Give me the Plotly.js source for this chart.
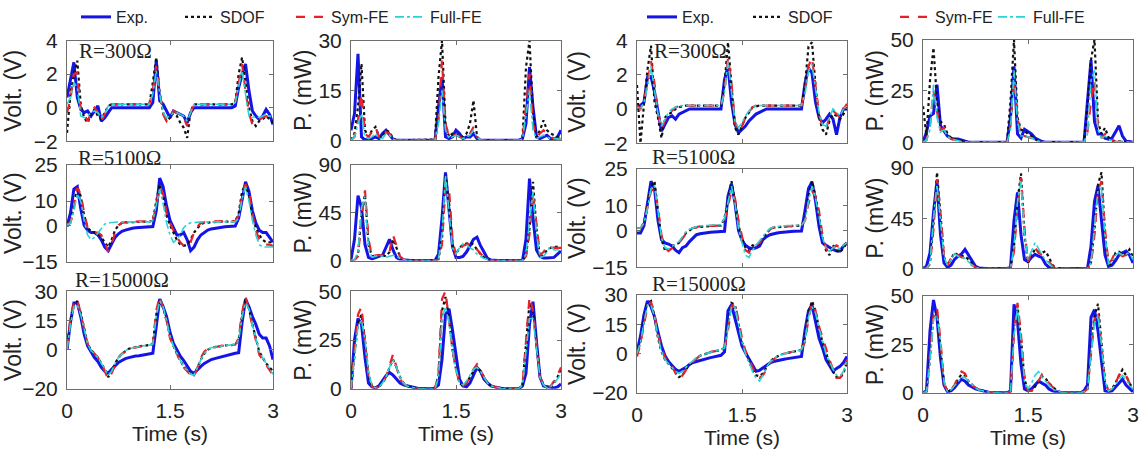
<!DOCTYPE html>
<html><head><meta charset="utf-8">
<script src="https://cdn.plot.ly/plotly-3.0.1.min.js"></script>
<style>html,body{margin:0;padding:0;background:#fff}#chart{width:1139px;height:453px}</style>
</head><body><div id="chart"></div>
<script>
// ---------------- DATA ----------------
const time = [0,0.05,0.1,0.15,0.2,0.25,0.3,0.35,0.4,0.45,
 0.5,0.55,0.6,0.65,0.7,0.75,0.8,0.85,0.9,0.95,
 1.0,1.05,1.1,1.15,1.2,1.25,1.3,1.35,1.4,1.45,
 1.5,1.55,1.6,1.65,1.7,1.75,1.8,1.85,1.9,1.95,
 2.0,2.05,2.1,2.15,2.2,2.25,2.3,2.35,2.4,2.45,
 2.5,2.55,2.6,2.65,2.7,2.75,2.8,2.85,2.9,2.95,3.0];
const seriesNames = ['Exp.','SDOF','Sym-FE','Full-FE'];
const resistLabels = ['R=300\u03A9','R=5100\u03A9','R=15000\u03A9'];
const xTickVals = [0,1.5,3];
const xTickText = ['0','1.5','3'];

// ---- Left group, R = 300 ohm ----
const voltL300_exp = [0.6,1.6,2.7,0.6,-0.1,-0.3,-0.2,-0.5,-0.2,0.1,
 -0.8,-0.6,-0.3,0,0,0,0,0,0,0,
 0,0,0,0,0,0.3,2.8,0.4,0.2,-0.2,
 -0.6,-0.2,-0.3,-0.4,-0.5,-0.9,-0.3,0,0,0,
 0,0,0,0,0,0,0,0,0,0.1,
 1.2,2.0,2.6,1.0,-0.2,-0.5,-0.7,-0.5,-0.1,-0.4,
 -1.0];
const voltL300_sdof = [-1.5,0.8,2.0,2.8,0.2,-0.6,-0.9,-0.4,-0.1,-0.5,
 -0.7,-0.3,0.1,0.2,0.2,0.2,0.2,0.2,0.2,0.2,
 0.2,0.2,0.2,0.2,0.2,1.5,3.0,0.8,-0.3,-0.8,
 -0.6,-0.3,-0.5,-0.9,-1.2,-1.8,-0.2,0.2,0.2,0.2,
 0.2,0.2,0.2,0.2,0.2,0.2,0.2,0.2,0.2,0.3,
 2.0,3.0,1.5,0.0,-0.8,-1.1,-0.8,-0.7,-0.5,-0.7,
 -0.9];
const voltL300_sym = [-0.3,0.5,2.0,2.1,-0.2,-0.4,-0.8,-0.3,0.0,-0.3,
 -0.8,-0.4,0.1,0.2,0.2,0.2,0.2,0.2,0.2,0.2,
 0.2,0.2,0.2,0.2,0.2,1.0,2.5,1.0,-0.4,-0.8,
 -0.5,-0.2,-0.3,-0.5,-0.6,-1.1,-0.3,0.2,0.2,0.2,
 0.2,0.2,0.2,0.2,0.2,0.2,0.2,0.2,0.2,0.3,
 1.5,2.6,1.0,-0.3,-1.0,-0.9,-0.7,-0.6,-0.5,-0.5,
 -0.7];
const voltL300_full = [0.2,0.6,1.5,1.2,-0.5,-0.6,-0.5,-0.3,-0.2,-0.3,
 -0.6,-0.4,0.1,0.2,0.2,0.2,0.2,0.2,0.2,0.2,
 0.2,0.2,0.2,0.2,0.2,0.8,2.2,0.8,-0.3,-0.6,
 -0.5,-0.3,-0.3,-0.4,-0.5,-0.8,-0.3,0.2,0.2,0.2,
 0.2,0.2,0.2,0.2,0.2,0.2,0.2,0.2,0.2,0.3,
 1.3,2.2,0.8,-0.5,-0.6,-0.5,-0.6,-0.5,-0.4,-0.5,
 -0.6];
const powerL300_exp = [3,8,26,1,0,0.5,0.5,1,0.5,2,
 3,1.5,0.3,0,0,0,0,0,0,0,
 0,0,0,0,0,10,19,1,0.5,1,
 3,2,0.5,1,1,2,0.5,0,0,0,
 0,0,0,0,0,0,0,0,0,0.5,
 5,22,10,1,0.5,1,1.5,0.5,0.2,1,
 3];
const powerL300_sdof = [0,2,10,23,3,1,3,4,1,1,
 3,2.5,0.5,0,0,0,0,0,0,0,
 0,0,0,0,0.2,19,30,5,1,2,
 2,1,1,2,5,12,1,0,0,0,
 0,0,0,0,0,0,0,0,0,0.5,
 22,30,8,1,3,6,3,2,1.5,1,
 0.5];
const powerL300_sym = [0,1,6,14,2,1,2.5,4,1,0.5,
 2.5,2,0.5,0,0,0,0,0,0,0,
 0,0,0,0,0,6,24,5,1,1.5,
 1.5,1,0.5,1,2,4,1,0,0,0,
 0,0,0,0,0,0,0,0,0,0.3,
 10,20,5,1,2,3,2,1,0.5,0.5,
 0.5];
const powerL300_full = [0,1,5,8,1,0.5,1,2,0.5,0.5,
 2,1.5,0.3,0,0,0,0,0,0,0,
 0,0,0,0,0,5,15,3,0.5,1,
 1.5,1,0.5,1,1.5,3,1,0,0,0,
 0,0,0,0,0,0,0,0,0,0.3,
 8,15,3,0.5,1,1.5,1,0.5,0.5,0.3,
 0.3];

// ---- Left group, R = 5100 ohm ----
const voltL5100_exp = [-0.5,5,15,16,7,0,-2,-3,-3,-4,
 -6,-9,-10.5,-8,-5,-3.5,-2.5,-2,-1.5,-1.2,
 -1,-0.9,-0.8,-0.7,-0.6,-0.5,6,19.5,16,8,
 2,-1,-4,-4,-3,-6,-10.5,-9,-6,-4,
 -3,-2,-1.5,-1.2,-1,-0.8,-0.6,-0.5,-0.4,-0.3,
 3,10,18,14,6,1,-2,-3,-3,-5,
 -7];
const voltL5100_sdof = [0.5,1,8,16,12,4,-1,-2.5,-3,-3.5,
 -5,-7,-9,-6,-2,0,1,1.2,1.3,1.4,
 1.5,1.5,1.5,1.5,1.5,2,10,17,12,4,
 0,-3,-6,-8,-8.5,-8,-6,-3,-1,0.5,
 1,1.2,1.3,1.4,1.5,1.5,1.5,1.5,1.5,1.6,
 5,14,17,12,4,-1,-4,-6,-7,-7,
 -7];
const voltL5100_sym = [0.5,1,7,15.5,13,5,-1,-2.5,-3,-3,
 -4,-7,-11,-8,-3,0,1,1.3,1.5,1.5,
 1.6,1.6,1.6,1.6,1.6,2,8,16,13,5,
 1,-2,-5,-7,-8.5,-9,-7,-3,-0.5,1,
 1.3,1.5,1.6,1.6,1.6,1.6,1.6,1.6,1.6,1.7,
 4,12,17,14,5,-2,-6,-7.5,-8,-8,
 -8.5];
const voltL5100_full = [0,1,6,13,10,2,-4,-6,-5,-3,
 -1,0.5,1,1.2,1.3,1.4,1.4,1.4,1.4,1.4,
 1.4,1.4,1.4,1.4,1.4,2,8,15,9,1,
 -4,-7,-6,-4,-1,0.5,1,1.2,1.3,1.4,
 1.4,1.4,1.4,1.4,1.4,1.4,1.4,1.4,1.4,1.4,
 3,11,16,10,2,-4,-8,-9,-9,-9,
 -9];
const powerL5100_exp = [1,20,61,50,15,3,1.5,3,4,5,
 12,20,10,3,1,0.5,0,0,0,0,
 0,0,0,0,0,6,40,83,50,13,
 3,3,4,8,14,20,22,14,8,2,
 0.5,0,0,0,0,0,0,0,0,0,
 20,77,40,10,4,2.5,2.5,2.5,3,6,
 9];
const powerL5100_sdof = [0,0.5,5,45,62,15,4,5,5,5,
 4,8,20,12,4,1,0,0,0,0,
 0,0,0,0,0,2,20,80,55,15,
 6,12,15,16,17,15,10,6,3,1,
 0,0,0,0,0,0,0,0,0,0,
 5,30,74,30,3,5,10,12,13,13,
 12];
const powerL5100_sym = [0,0.5,4,40,66,20,4,5,5,5,
 4,8,24,14,4,1,0,0,0,0,
 0,0,0,0,0,1,15,70,68,20,
 5,10,14,15,16,14,10,6,3,1,
 0,0,0,0,0,0,0,0,0,0,
 4,25,63,35,5,8,13,13,12,12,
 12];
const powerL5100_full = [0,1,8,50,60,12,3,4,5,4,
 3,4,5,4,2,1,0,0,0,0,
 0,0,0,0,0,2,25,80,45,12,
 6,12,16,15,12,10,6,4,2,1,
 0,0,0,0,0,0,0,0,0,0,
 6,35,65,25,3,4,8,14,10,10,
 10];

// ---- Left group, R = 15000 ohm ----
const voltL15000_exp = [0,14,24,24,17,8,2,-1,-4,-6,
 -9,-11,-12,-10,-8,-6.5,-5.5,-4.5,-4,-3.5,
 -3.2,-3,-2.7,-2.4,-2.2,-1.8,12,26,22,17,
 9,3.3,0,-3.3,-5.5,-8,-11,-12,-10,-8.5,
 -7,-6,-5,-4.5,-4,-3.5,-3,-2.5,-2.2,-1.8,
 -1.5,14,26,22,17,13,8,6,6,2,
 -5];
const voltL15000_sdof = [0.5,15,23,25,19,10,3,0,-2,-4,
 -7,-10,-14,-11,-7,-4,-2,-0.5,0.5,1,
 1.5,1.8,2,2.2,2.4,3,18,26,22,15,
 7,2,-2,-5.5,-8.5,-10.5,-12.5,-13,-9,-5,
 -2,0,1,1.4,1.7,2,2.2,2.4,2.5,2.6,
 5,18,26,21,13,6,-1,-4,-7,-9,
 -11];
const voltL15000_sym = [1,16,24,26,18,10,3,-1,-2,-4,
 -7,-11,-15,-12,-7.5,-4,-2,-1,0,0.8,
 1.2,1.6,2,2.2,2.4,3,20,27.5,21,15,
 6,1.7,-2,-6,-9,-11,-13,-14,-9,-4,
 -1,0.5,1,1.4,1.7,2,2.2,2.4,2.5,2.6,
 6,19,27.5,20,12.5,5,-2.5,-5,-7.5,-10,
 -13];
const voltL15000_full = [0,13,22,23,18,10,3,-0.5,-2,-4,
 -7,-10,-13,-11,-7,-4,-2,-0.5,0.5,1,
 1.4,1.7,2,2.2,2.4,3,17,25,22,15,
 7,2,-2,-5.5,-8.5,-10.5,-12.5,-13,-9,-5,
 -2,0,1,1.4,1.7,2,2.2,2.4,2.5,2.6,
 5,17,24,21,13,6,-1,-4,-7,-10,
 -12.5];
const powerL15000_exp = [0,25,36,33,16,3,1,0.5,1.5,4,
 6.7,8.4,7,5,3,2,1.5,1,0.5,0.3,
 0.2,0,0,0,0.5,2,15,38,41,30,
 16,5,1.5,1,3,7,11,9,5,3,
 1.5,1,0.5,0.3,0,0,0,0,0,1.5,
 8,33,44.6,24,6,1.5,1.2,1,0.5,1,
 2.5];
const powerL15000_sdof = [0,16,34,38,25,7,1.5,0.5,1,3,
 6,11,15,11,6,3,1.5,1,0.5,0.2,
 0,0,0,0,0,7,40,47,36,20,
 10,3,1.5,3,6,9,11,9,6,3,
 1.5,1,0.5,0.2,0,0,0,0,0,2,
 22,44,40,22,6,2,0.5,1,3,6,
 10];
const powerL15000_sym = [0,18,38,42,25,6,1,0.5,1,3,
 6,12,17.7,11,5,2.5,1.5,1,0.5,0.2,
 0,0,0,0,0,8,46,50,35,20,
 10,3,1.5,3,6,10,12.6,9,6,3,
 1.5,1,0.5,0.2,0,0,0,0,0,2,
 25,47,40,22,6,2,0.5,1,4,7,
 11];
const powerL15000_full = [0,15,32,35,25,8,2,0.5,1,3,
 6,11,15,11,6,3,1.5,1,0.5,0.2,
 0,0,0,0,0,6,36,42,34,20,
 10,3,2,4,7,10,11,9,6,3,
 1.5,1,0.5,0.2,0,0,0,0,0,2,
 20,36,36,22,6,2,0.5,1,3,5,
 8];

// ---- Right group, R = 300 ohm ----
const voltR300_exp = [0,0.2,0.4,1.85,1.9,1.0,-0.1,-1.3,-0.9,-0.5,
 -0.4,-0.6,-0.3,-0.2,-0.1,0,0,0,0,0,
 0,0,0,0,0,1.7,2.5,0.4,-0.9,-1.4,
 -1.2,-1.0,-0.7,-0.5,-0.3,-0.2,-0.1,0,0,0,
 0,0,0,0,0,0,0,0,1.5,2.4,
 2.1,0.4,-0.5,-0.8,-0.6,-0.3,-0.6,-1.5,-0.5,0,
 0];
const voltR300_sdof = [1.4,-2,0.3,2.3,3.7,0.4,-0.5,-1.7,-0.5,-0.3,
 -0.2,0,0.1,0.15,0.2,0.2,0.2,0.2,0.2,0.2,
 0.2,0.2,0.2,0.2,0.2,1.4,3.9,1.4,-1.1,-1.5,
 -1.0,-0.5,-0.2,0.1,0.15,0.2,0.2,0.2,0.2,0.2,
 0.2,0.2,0.2,0.2,0.2,0.2,0.2,0.2,1.4,3.65,
 3.9,1.4,-0.5,-1.2,-1.5,-0.7,-0.3,-0.4,-0.6,-0.3,
 0.15];
const voltR300_sym = [0.2,0,0.5,1.5,2.8,1.5,-0.2,-1.2,-0.7,-0.3,
 -0.1,0.1,0.15,0.2,0.2,0.2,0.2,0.2,0.2,0.2,
 0.2,0.2,0.2,0.2,0.2,1.0,3.0,1.5,-0.8,-1.3,
 -1.0,-0.5,-0.2,0.1,0.2,0.2,0.2,0.2,0.2,0.2,
 0.2,0.2,0.2,0.2,0.2,0.2,0.2,0.2,1.0,2.5,
 3.0,1.5,-0.3,-1.0,-1.2,-0.5,-0.1,-0.3,-0.5,0,
 0.3];
const voltR300_full = [0.1,0,0.4,1.3,2.5,1.2,-0.3,-1.0,-0.6,-0.2,
 0,0.1,0.15,0.2,0.2,0.2,0.2,0.2,0.2,0.2,
 0.2,0.2,0.2,0.2,0.2,1.0,2.8,1.0,-0.7,-1.1,
 -0.8,-0.4,-0.1,0.1,0.2,0.2,0.2,0.2,0.2,0.2,
 0.2,0.2,0.2,0.2,0.2,0.2,0.2,0.2,0.9,2.2,
 2.6,1.2,-0.2,-0.9,-1.0,-0.5,0,-0.2,-0.4,0,
 0.2];
const powerR300_exp = [0,5,12.7,14,28,8,5.5,3,2,1.5,
 1.5,1,0.5,0,0,0,0,0,0,0,
 0,0,0,0,0,12,37,4,2,6.3,
 5,4,2,1,0.3,0,0,0,0,0,
 0,0,0,0,0,0,0,20,40,10,
 4,4,2,1.5,2,5,8,3,0.5,0.3,
 0];
const powerR300_sdof = [17.5,3,30,46,20,10,8.7,4,2,1.5,
 1,0.5,0.2,0,0,0,0,0,0,0,
 0,0,0,0,0,20,50,12,6,5.5,
 4,3,1.5,0.5,0,0,0,0,0,0,
 0,0,0,0,0,0,0,18,40,50,
 10,4,7,2.4,1,0.5,0.3,0.2,0,0,
 0];
const powerR300_sym = [0,1,8,25,15,6,7,3,1.5,1,
 0.5,0.3,0,0,0,0,0,0,0,0,
 0,0,0,0,0,8,30,12,3,3,
 2.5,2,1,0.5,0,0,0,0,0,0,
 0,0,0,0,0,0,0,5,20,30,
 8,2,4,1.5,0.5,0.3,0.2,1,0,0,
 0];
const powerR300_full = [0,1,6,28,12,5,6,3,1.5,1,
 0.5,0.3,0,0,0,0,0,0,0,0,
 0,0,0,0,0,6,35,10,3,3,
 2.5,2,1,0.5,0,0,0,0,0,0,
 0,0,0,0,0,0,0,4,30,35,
 6,2,3,1.5,0.5,0.3,0.2,0.5,0,0,
 0];

// ---- Right group, R = 5100 ohm ----
const voltR5100_exp = [-1,-1,2,12,20,17,4,-3.7,-5,-5.5,
 -6.3,-8,-9,-7,-6.3,-4.5,-3,-1.7,-1.3,-1,
 -0.8,-0.7,-0.6,-0.5,-0.4,-0.3,14,19,11,0,
 -4,-6,-7,-7.4,-7,-6.3,-3.7,-2.5,-1.7,-1.2,
 -1,-0.8,-0.6,-0.5,-0.4,-0.3,-0.3,-0.2,8,17,
 19.7,12,1.7,-5,-6,-7,-7.7,-8.3,-8.3,-6.3,
 -5];
const voltR5100_sdof = [1,1,3,10,18,20,8,-3.7,-8,-8,
 -6.3,-5.5,-5,-3,-1,0,1,1.3,1.5,1.6,
 1.7,1.8,1.9,2,2,5,13,20,12,2,
 -3,-7,-8,-6,-6.5,-5,-3,-1,0.5,1.2,
 1.4,1.5,1.6,1.7,1.8,1.9,2,2,5,14,
 20,14,6,-3,-8,-10,-6,-8,-9,-7,
 -5];
const voltR5100_sym = [1,1,3,9,16,17,9,-2,-7,-8.3,
 -7,-6,-5,-3,-1,0.5,1,1.5,1.7,1.8,
 1.9,2,2,2,2,4,10,16,13,4,
 -2.3,-8,-9,-5.7,-6,-5,-3,-1,0.5,1.2,
 1.4,1.5,1.6,1.7,1.8,1.9,2,2,4,11,
 16,14,8,-2,-7,-9.7,-7,-6,-7,-6,
 -5];
const voltR5100_full = [1,1,3,9,17,18,8,-3,-7,-7.5,
 -6.5,-5.5,-4.5,-2.5,-0.5,0.5,1.2,1.6,1.8,2,
 2,2.1,2.2,2.2,2.3,5,12,18,11,1,
 -5,-10,-11,-8,-6,-4,-2,-0.5,0.8,1.4,
 1.6,1.8,1.9,2,2,2.1,2.2,2.2,4,12,
 18,13,6,-3,-7,-8.5,-7,-6.5,-7.5,-6,
 -5];
const powerR5100_exp = [0,2,14,50,78,30,5,1,3,8,
 11,13,17,12,6,2,0.5,0,0,0,
 0,0,0,0,0,1,43,68,30,8,
 6,10,12.6,11,9.6,4,1,0,0,0,
 0,0,0,0,0,0,0,0,20,60,
 74,45,12,2,3,7,12,14,15.5,12,
 5];
const powerR5100_sdof = [0,0,5,40,86,45,10,3,8,14,
 12,11,11,8,4,1,0,0,0,0,
 0,0,0,0,0,0,20,60,85,30,
 5,12,17,15,14,15.5,10,3,0.5,0,
 0,0,0,0,0,0,0,0,5,35,
 75,86,30,3,5,14,15,13,13,17,
 10];
const powerR5100_sym = [0,0,4,35,80,50,12,3,9,14,
 12,10,9,6,3,1,0,0,0,0,
 0,0,0,0,0,0,15,55,81,35,
 6,14,19,14,12,10,6,2,0.5,0,
 0,0,0,0,0,0,0,0,4,30,
 70,78,35,4,8,15.5,13,11,12,14,
 8];
const powerR5100_full = [0,0,5,45,75,40,10,3,8,13,
 11,10,9,6,3,1,0,0,0,0,
 0,0,0,0,0,0,20,60,78,30,
 8,16,23,18,12,8,4,1,0.5,0,
 0,0,0,0,0,0,0,0,5,35,
 70,72,30,4,6,12,14,12,13,14,
 8];

// ---- Right group, R = 15000 ohm ----
const voltR15000_exp = [1,9,20,27,24,19,11,4,-1,-4,
 -6,-8,-9,-8,-7,-5.5,-4.5,-4,-3.5,-3,
 -2.2,-2,-1.6,-1.2,-0.8,1,22,25,18,10,
 4,0.5,-2.5,-6,-9,-8.5,-7.3,-6,-4.7,-4,
 -3.5,-3,-2.8,-2.5,-2.2,-2,-1.8,-1.4,12,22,
 25,16,8,3,-3,-6,-9,-7.5,-6.5,-4.5,
 -1.4];
const voltR15000_sdof = [0,6,17,26,27,19,8,1,-3,-5,
 -7,-9.5,-12,-11,-8,-5.6,-4,-2.5,-1,-0.5,
 0.3,0.8,1.2,1.5,2,3,14,26,25,15,
 6,0.5,-4,-8,-11,-11.5,-10,-7,-4,-2.5,
 -1.5,-0.5,0,0.5,1,1.3,1.6,2,8,21,
 27,22,13,6,0,-5,-9,-12,-12.5,-10,
 -4];
const voltR15000_sym = [-1.4,5,15,24,26.6,20,10,3,-2,-4,
 -6.5,-10,-13,-11,-8,-5.6,-4,-2.5,-1,-0.5,
 0.3,0.8,1.2,1.5,2,3,12,24,25.8,17,
 8,1.5,-3,-7.3,-11,-12.4,-11,-8,-4.7,-3,
 -1.5,-0.5,0,0.5,1,1.3,1.6,2,6,18,
 25.8,22,14,8,2,-3,-8,-12.4,-12.4,-9,
 -3];
const voltR15000_full = [0,6,16,25,25,19,9,1,-3,-5,
 -7,-9,-10,-9,-7,-5,-3.5,-2,-1,-0.5,
 0.3,0.8,1.2,1.5,2,3,14,24,24,15,
 6,0,-5,-9,-12.5,-14,-11,-7,-4,-2.5,
 -1.5,-0.5,0,0.5,1,1.3,1.6,2,7,19,
 24,21,13,7,0,-4,-8,-11,-11.5,-9,
 -3];
const powerR15000_exp = [0,1,32,48,39,18,4,0.5,1,2.6,
 5,7,6,4,3,2,1.5,1,0.5,0.2,
 0,0,0,0,0,1,45.7,37,14.7,2,
 1,2,4,6,5,4,2,1,0.5,0.2,
 0,0,0,0,0,0,1,4,39,43,
 32,14.7,1,0.5,1,3,5,7,4,2,
 0.5];
const powerR15000_sdof = [0,0.5,18,40,42,25,5,0.5,1.5,3.5,
 7,9.5,9,6,4,2.5,1.5,1,0.5,0.2,
 0,0,0,0,0,0.5,32,45,28,7,
 1,1,3,5.5,8.5,7.5,5,3,1.5,0.5,
 0,0,0,0,0,0,0.5,2,22,40,
 46,26,6,1,2,5,9,12,9,5,
 2];
const powerR15000_sym = [0,0.5,20,40,44,27,5,0.5,1.5,4,
 8,11,10,6,4,2.5,1.5,1,0.5,0.2,
 0,0,0,0,0,0.5,30,46.5,30,8,
 1,1,3,6,9.5,8,5,3,1.5,0.5,
 0,0,0,0,0,0,0.5,2,20,38,
 42,25,6,1,2,5,9,11,9,5,
 2];
const powerR15000_full = [0,0.5,16,38,40,26,6,0.5,1.5,3.5,
 6,8,8,6,4,2.5,1.5,1,0.5,0.2,
 0,0,0,0,0,0.5,30,44,27,6,
 2,5,9,11,8,6,4,2,1,0.5,
 0,0,0,0,0,0,0.5,2,20,36,
 40,25,6,1,2,4,7,9,7,4,
 2];

// ---------------- LAYOUT / STYLE ----------------
const W = 1139, H = 453;
const FONT = 'Liberation Sans, Arial, Helvetica, sans-serif';
const TICK_SIZE = 21, YTITLE_SIZE = 23, XTITLE_SIZE = 21, LEGEND_SIZE = 16;
const styles = [
  {color:'#1414e6', width:3,   dash:'solid'},
  {color:'#111111', width:2.2, dash:'dot'},
  {color:'#e8202a', width:2.2, dash:'dash'},
  {color:'#2cd3d6', width:1.6, dash:'dashdot'}
];
// box = [left, right, top, bottom] in px
const panels = [
 {data:[voltL300_exp,voltL300_sdof,voltL300_sym,voltL300_full], box:[67,273,35,137], range:[-2,4], tv:[-2,0,2,4], yt:'Volt. (V)', so:11, xl:false, leg:0},
 {data:[powerL300_exp,powerL300_sdof,powerL300_sym,powerL300_full], box:[351,561,35,136], range:[0,30], tv:[0,15,30], yt:'P. (mW)', so:0, xl:false},
 {data:[voltL5100_exp,voltL5100_sdof,voltL5100_sym,voltL5100_full], box:[67,273,161,259], range:[-15,25], tv:[-15,0,10,25], yt:'Volt. (V)', so:0, xl:false},
 {data:[powerL5100_exp,powerL5100_sdof,powerL5100_sym,powerL5100_full], box:[351,561,161,258], range:[0,90], tv:[0,45,90], yt:'P. (mW)', so:0, xl:false},
 {data:[voltL15000_exp,voltL15000_sdof,voltL15000_sym,voltL15000_full], box:[67,273,289,388], range:[-20,30], tv:[-20,0,15,30], yt:'Volt. (V)', so:0, xl:true},
 {data:[powerL15000_exp,powerL15000_sdof,powerL15000_sym,powerL15000_full], box:[351,561,289,388], range:[0,50], tv:[0,25,50], yt:'P. (mW)', so:0, xl:true},
 {data:[voltR300_exp,voltR300_sdof,voltR300_sym,voltR300_full], box:[637,847,35,139], range:[-2,4], tv:[-2,0,2,4], yt:'Volt. (V)', so:11, xl:false, leg:4},
 {data:[powerR300_exp,powerR300_sdof,powerR300_sym,powerR300_full], box:[923,1133,34,138], range:[0,50], tv:[0,25,50], yt:'P. (mW)', so:0, xl:false},
 {data:[voltR5100_exp,voltR5100_sdof,voltR5100_sym,voltR5100_full], box:[637,847,165,265], range:[-15,25], tv:[-15,0,10,25], yt:'Volt. (V)', so:0, xl:false},
 {data:[powerR5100_exp,powerR5100_sdof,powerR5100_sym,powerR5100_full], box:[923,1133,164,266], range:[0,90], tv:[0,45,90], yt:'P. (mW)', so:0, xl:false},
 {data:[voltR15000_exp,voltR15000_sdof,voltR15000_sym,voltR15000_full], box:[637,847,293,392], range:[-20,30], tv:[-20,0,15,30], yt:'Volt. (V)', so:0, xl:true},
 {data:[powerR15000_exp,powerR15000_sdof,powerR15000_sym,powerR15000_full], box:[923,1133,294,392], range:[0,50], tv:[0,25,50], yt:'P. (mW)', so:0, xl:true}
];
// legend text start x (px) for each legend entry
const legendTextX = [118,222,333,432, 684,790,937,1035];
const legendY = 11;
// R label positions (px): [x_left, y_center]
const rLabelPos = [[77,46],[76,154],[73,278],[652,46],[650,153],[650,282]];

const traces = [];
const layout = {
  width: W, height: H,
  margin:{l:0,r:0,t:0,b:0},
  paper_bgcolor:'#ffffff', plot_bgcolor:'#ffffff',
  font:{family:FONT, size:TICK_SIZE, color:'#222222'},
  showlegend:true,
  annotations:[]
};

panels.forEach((p,k)=>{
  const sfx = k===0 ? '' : String(k+1);
  const [l,r,tp,bt] = p.box;
  p.data.forEach((ys,s)=>{
    const tr = {
      type:'scatter', mode:'lines', x:time, y:ys,
      name:seriesNames[s], xaxis:'x'+sfx, yaxis:'y'+sfx,
      line:{color:styles[s].color, width:styles[s].width, dash:styles[s].dash},
      showlegend:false, hoverinfo:'skip'
    };
    if(p.leg !== undefined){
      const li = p.leg + s;
      tr.showlegend = true;
      tr.legend = li===0 ? 'legend' : 'legend'+(li+1);
    }
    traces.push(tr);
  });
  const axCommon = {
    showline:true, linecolor:'#6e6e6e', linewidth:1, mirror:'ticks',
    ticks:'inside', ticklen:4, tickcolor:'#6e6e6e', tickwidth:1,
    showgrid:false, zeroline:false, fixedrange:true,
    tickfont:{family:FONT, size:TICK_SIZE, color:'#222222'}
  };
  layout['xaxis'+sfx] = Object.assign({}, axCommon, {
    domain:[l/W, r/W], anchor:'y'+sfx, range:[0,3],
    tickmode:'array', tickvals:xTickVals, ticktext:xTickText,
    showticklabels:p.xl, ticklabelstandoff:3,
    title: p.xl ? {text:'Time (s)', font:{family:FONT,size:XTITLE_SIZE,color:'#222222'}, standoff:3} : {text:''}
  });
  layout['yaxis'+sfx] = Object.assign({}, axCommon, {
    domain:[1-bt/H, 1-tp/H], anchor:'x'+sfx, range:p.range,
    tickmode:'array', tickvals:p.tv, ticklabelstandoff:4,
    title:{text:p.yt, font:{family:FONT,size:YTITLE_SIZE,color:'#222222'}, standoff:p.so}
  });
});

legendTextX.forEach((tx,i)=>{
  const key = i===0 ? 'legend' : 'legend'+(i+1);
  layout[key] = {
    x:(tx-42)/W, xanchor:'left', y:1-legendY/H, yanchor:'middle',
    orientation:'h', bgcolor:'rgba(0,0,0,0)', borderwidth:0,
    font:{family:FONT, size:LEGEND_SIZE, color:'#222222'}, itemwidth:30
  };
});

rLabelPos.forEach((pos,i)=>{
  layout.annotations.push({
    xref:'paper', yref:'paper', x:pos[0]/W, y:1-pos[1]/H,
    xanchor:'left', yanchor:'middle', showarrow:false,
    text:resistLabels[i%3],
    font:{family:'Liberation Serif, Times New Roman, serif', size:21, color:'#222222'}
  });
});

Plotly.newPlot('chart', traces, layout, {displayModeBar:false, staticPlot:true});
</script>
</body></html>
